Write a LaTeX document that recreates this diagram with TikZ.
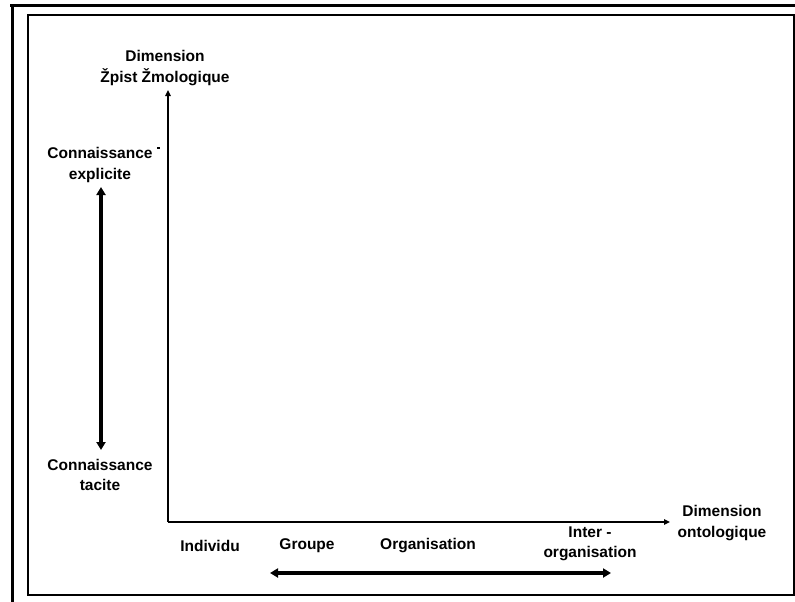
\documentclass[tikz,border=0pt]{standalone}
\usepackage{fontspec}
\setmainfont{Liberation Sans}
\usetikzlibrary{arrows.meta}
\tikzset{
	lbl/.style={font=\bfseries\fontsize{15.5}{20.5}\selectfont, align=center, inner sep=0pt},
	axis/.style={line width=2.5pt, -{Triangle[length=6pt,width=5.5pt]}},
	spanarrow/.style={line width=3.6pt, {Triangle[length=8pt,width=9pt]}-{Triangle[length=8pt,width=9pt]}}
}
\begin{document}
\begin{tikzpicture}[x=1pt, y=-1pt]
			%%%%% START %%%%%
			\useasboundingbox (0, 0) rectangle (795, 602);
			
			% frame
			\draw[line width=3pt] (10, 6) -- (795, 6);
			\draw[line width=3pt] (12, 5) -- (12, 602);
			\draw[line width=2pt] (28, 15) rectangle (793.5, 595);
			
			% axes
			\coordinate (O) at (168, 522);
			\coordinate (ytop) at (168, 90);
			\coordinate (xend) at (670, 522);
			\draw[axis] (O) -- (ytop);
			\draw[axis] (O) -- (xend);
			\draw[line width=1.5pt] (157, 148) -- (160, 148);
			
			% labels
			\node[lbl] (epist) at (165, 68) {Dimension\\Žpist Žmologique};
			\node[lbl] (onto) at (722, 523) {Dimension\\ontologique};
			\node[lbl] (expl) at (100, 165) {Connaissance\\explicite};
			\node[lbl] (tac) at (100, 475) {Connaissance\\tacite};
			\node[lbl] (indiv) at (210, 546) {Individu};
			\node[lbl] (grp) at (307, 546) {Groupe};
			\node[lbl] (orga) at (428, 546) {Organisation};
			\node[lbl] (inter) at (590, 544) {Inter -\\organisation};
			
			% ranges
			\coordinate (vt) at (101, 187);
			\coordinate (vb) at (101, 450);
			\draw[spanarrow] (vb) -- (vt);
			\coordinate (gl) at (270, 573);
			\coordinate (gr) at (611, 573);
			\draw[spanarrow] (gl) -- (gr);
			%%%%% END %%%%%
\end{tikzpicture}
\end{document}
